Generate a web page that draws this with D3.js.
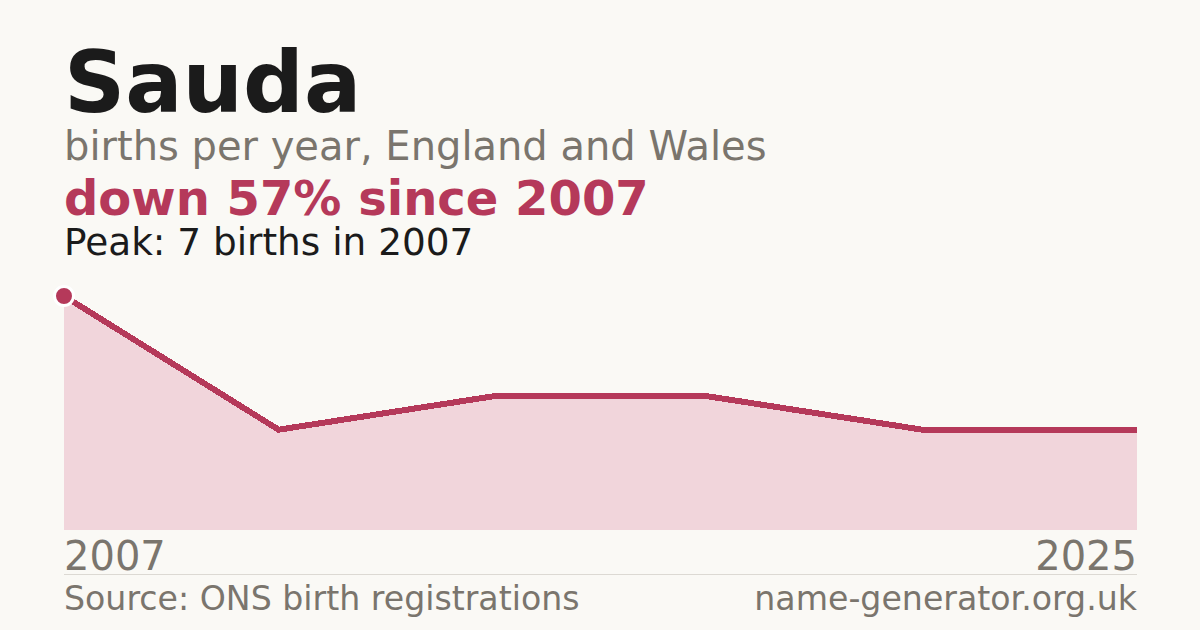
<!DOCTYPE html>
<html>
<head>
<meta charset="utf-8">
<script src="https://cdn.jsdelivr.net/npm/d3@7"></script>
<style>
  html, body { margin: 0; padding: 0; background: #faf9f5; }
  svg { display: block; font-family: "DejaVu Sans", sans-serif; }
</style>
</head>
<body>
<script>
// Data (births per year, evenly spaced points)
const years = [2007, 2011, 2014, 2018, 2021, 2025];
const births = [7, 3, 4, 4, 3, 3];
const axisLabels = ["2007", "2025"];

const W = 1200, H = 630;
const margin = { left: 64, right: 63 };
const plotTop = 296, plotBottom = 530;

const svg = d3.select("body").append("svg")
  .attr("width", W)
  .attr("height", H);

svg.append("rect").attr("width", W).attr("height", H).attr("fill", "#faf9f5");

// Header texts
svg.append("text").attr("x", 64).attr("y", 112)
  .attr("font-size", 85).attr("font-weight", "bold").attr("fill", "#1b1b1b")
  .text("Sauda");
svg.append("text").attr("x", 64).attr("y", 160)
  .attr("font-size", 40).attr("fill", "#7a756d")
  .text("births per year, England and Wales");
svg.append("text").attr("x", 64).attr("y", 215)
  .attr("font-size", 48).attr("font-weight", "bold").attr("fill", "#b5395a")
  .text("down 57% since 2007");
svg.append("text").attr("x", 64).attr("y", 255)
  .attr("font-size", 37.4).attr("fill", "#1b1b1b")
  .text("Peak: 7 births in 2007");

// Scales
const x = d3.scalePoint().domain(d3.range(years.length)).range([margin.left, W - margin.right]);
const y = d3.scaleLinear().domain([0, d3.max(births)]).range([plotBottom, plotTop]);

const area = d3.area()
  .x((d, i) => x(i))
  .y0(plotBottom)
  .y1(d => y(d));

const line = d3.line()
  .x((d, i) => x(i))
  .y(d => y(d));

svg.append("path").datum(births)
  .attr("d", area)
  .attr("fill", "#f1d5db");

svg.append("path").datum(births)
  .attr("d", line)
  .attr("fill", "none")
  .attr("stroke", "#b5395a")
  .attr("stroke-width", 6)
  .attr("shape-rendering", "crispEdges");

// Peak marker
const peakIdx = births.indexOf(d3.max(births));
svg.append("circle")
  .attr("cx", x(peakIdx)).attr("cy", y(births[peakIdx]))
  .attr("r", 9.5)
  .attr("fill", "#b5395a")
  .attr("stroke", "#ffffff")
  .attr("stroke-width", 3);

// Axis end labels
svg.append("text").attr("x", margin.left).attr("y", 570)
  .attr("font-size", 40).attr("fill", "#7a756d")
  .text(axisLabels[0]);
svg.append("text").attr("x", W - margin.right).attr("y", 570)
  .attr("text-anchor", "end")
  .attr("font-size", 40).attr("fill", "#7a756d")
  .text(axisLabels[1]);

// Rule + footer
svg.append("line")
  .attr("x1", margin.left).attr("x2", W - margin.right)
  .attr("y1", 574.5).attr("y2", 574.5)
  .attr("stroke", "#dcd9d3").attr("stroke-width", 1);

svg.append("text").attr("x", margin.left).attr("y", 610)
  .attr("font-size", 33.2).attr("fill", "#7a756d")
  .text("Source: ONS birth registrations");
svg.append("text").attr("x", W - margin.right).attr("y", 610)
  .attr("text-anchor", "end")
  .attr("font-size", 33.2).attr("fill", "#7a756d")
  .text("name-generator.org.uk");
</script>
</body>
</html>
